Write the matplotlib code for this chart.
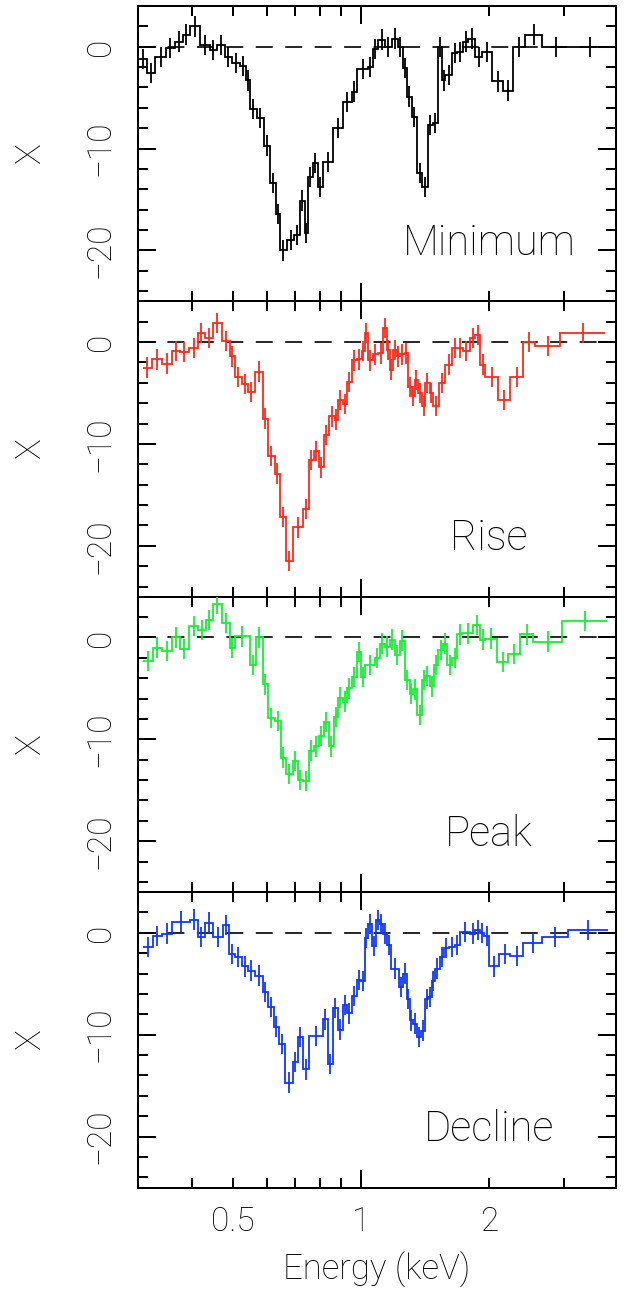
import numpy as np
import matplotlib
matplotlib.use("Agg")
import matplotlib.pyplot as plt
from matplotlib.ticker import FixedLocator, FixedFormatter, NullFormatter

plt.rcParams['font.family'] = ['Roboto', 'DejaVu Sans']
plt.rcParams['font.weight'] = 'light'
plt.rcParams['lines.scale_dashes'] = False

# ---------------- data (energy bin edges in keV, residuals in sigma) ----------------
min_edges = [0.299, 0.314, 0.328, 0.348, 0.365, 0.381, 0.396, 0.418, 0.441, 0.458, 0.479, 0.497,
             0.519, 0.536, 0.548, 0.569, 0.591, 0.611, 0.631, 0.645, 0.670, 0.696, 0.719, 0.738,
             0.750, 0.771, 0.792, 0.814, 0.859, 0.907, 0.952, 0.979, 1.039, 1.067, 1.097, 1.139,
             1.183, 1.222, 1.256, 1.283, 1.318, 1.355, 1.392, 1.438, 1.477, 1.518, 1.551, 1.577,
             1.638, 1.683, 1.738, 1.786, 1.855, 1.927, 2.034, 2.159, 2.279, 2.432, 2.667, 3.104, 3.855]
min_vals = [-1.2, -2.6, -1.0, -0.1, 0.5, 1.2, 2.0, 0.2, -0.3, 0.2, -1.0, -1.6, -1.9, -3.3, -6.1,
            -7.0, -9.7, -13.4, -16.4, -20.0, -19.0, -18.5, -15.1, -18.3, -12.8, -11.4, -13.8, -11.3,
            -8.0, -5.4, -4.4, -2.2, -2.0, -0.2, 0.7, 0.0, 0.8, 0.0, -2.1, -4.9, -6.9, -12.4, -13.8,
            -7.7, -7.5, 0.0, -3.3, -2.8, -0.6, -0.5, 0.5, 0.8, -1.0, -0.5, -3.4, -4.3, 0.0, 1.2, 0.0, 0.0]

rise_edges = [0.307, 0.322, 0.340, 0.359, 0.375, 0.394, 0.414, 0.429, 0.448, 0.471, 0.492, 0.505,
              0.525, 0.542, 0.563, 0.588, 0.604, 0.627, 0.645, 0.666, 0.692, 0.730, 0.754, 0.775,
              0.797, 0.818, 0.841, 0.869, 0.883, 0.907, 0.927, 0.952, 0.979, 1.005, 1.022, 1.039,
              1.067, 1.097, 1.127, 1.151, 1.170, 1.189, 1.216, 1.235, 1.269, 1.290, 1.318, 1.340,
              1.362, 1.392, 1.415, 1.453, 1.477, 1.526, 1.577, 1.638, 1.683, 1.738, 1.805, 1.855,
              1.906, 1.958, 2.101, 2.242, 2.406, 2.568, 2.940, 3.752]
rise_vals = [-2.5, -1.7, -2.1, -0.85, -0.95, -0.6, 0.9, 0.4, 1.9, 0.1, -1.4, -3.4, -4.1, -4.9, -2.9,
             -7.5, -11.2, -12.9, -17.2, -21.5, -18.2, -16.4, -11.6, -10.7, -12.3, -9.1, -7.3, -7.6,
             -5.7, -6.1, -3.9, -1.8, -1.7, -0.9, 0.9, -1.8, -1.2, -1.1, 1.4, -0.75, -2.7, -0.75, -1.4,
             -1.2, -1.1, -4.4, -5.3, -3.7, -5.0, -6.3, -4.0, -5.0, -6.3, -4.0, -2.2, -0.6, -0.6, -0.9,
             0.4, 0.7, -2.2, -3.4, -5.7, -3.4, 0.0, -0.4, 0.9]

peak_edges = [0.307, 0.324, 0.340, 0.359, 0.375, 0.394, 0.414, 0.432, 0.448, 0.471, 0.492, 0.505,
              0.548, 0.566, 0.588, 0.604, 0.627, 0.648, 0.666, 0.692, 0.711, 0.730, 0.754, 0.775,
              0.797, 0.818, 0.841, 0.864, 0.883, 0.907, 0.927, 0.952, 0.979, 1.000, 1.022, 1.079,
              1.108, 1.139, 1.170, 1.202, 1.235, 1.269, 1.304, 1.326, 1.355, 1.392, 1.415, 1.453,
              1.485, 1.518, 1.560, 1.594, 1.638, 1.683, 1.729, 1.835, 1.906, 1.958, 2.090, 2.218,
              2.367, 2.540, 2.973, 3.793]
peak_vals = [-2.3, -1.0, -1.3, 0.0, -1.1, 1.1, 0.75, 1.7, 3.3, 1.4, -1.05, 0.1, -2.7, 0.0, -4.6,
             -7.9, -8.2, -11.8, -13.4, -12.1, -14.0, -14.1, -11.1, -10.7, -9.7, -8.3, -10.7, -7.8,
             -5.9, -6.3, -5.0, -3.9, -1.4, -3.9, -2.7, -2.0, -0.6, -0.9, -0.2, -1.7, -0.3, -4.2,
             -5.5, -5.1, -7.6, -4.2, -3.8, -4.8, -2.7, -1.2, -0.6, -2.7, -2.0, 0.3, 0.4, 1.2, -0.2,
             -0.1, -2.4, -1.6, 0.3, -0.4, 1.6]

decl_edges = [0.307, 0.324, 0.340, 0.359, 0.396, 0.414, 0.429, 0.448, 0.473, 0.489, 0.505, 0.525,
              0.542, 0.563, 0.588, 0.604, 0.624, 0.641, 0.662, 0.692, 0.711, 0.730, 0.754, 0.814,
              0.836, 0.859, 0.883, 0.907, 0.927, 0.952, 0.979, 1.000, 1.022, 1.039, 1.061, 1.085,
              1.108, 1.127, 1.151, 1.177, 1.229, 1.256, 1.283, 1.304, 1.326, 1.355, 1.384, 1.415,
              1.438, 1.469, 1.493, 1.534, 1.568, 1.611, 1.664, 1.710, 1.805, 1.855, 1.906, 1.948,
              2.001, 2.113, 2.242, 2.406, 2.667, 3.071, 3.814]
decl_vals = [-1.4, -0.3, -0.07, 1.1, 1.3, -0.4, 1.0, -0.4, 0.75, -2.1, -2.4, -3.3, -3.7, -4.2, -5.8,
             -7.3, -9.2, -10.9, -14.7, -12.7, -10.2, -13.4, -10.1, -8.5, -12.9, -7.4, -9.5, -7.1,
             -7.9, -6.2, -4.6, -4.7, -0.5, 0.85, -1.3, 1.25, 0.9, -0.07, -1.2, -3.5, -5.3, -4.0,
             -6.5, -8.6, -8.9, -10.2, -9.6, -6.5, -6.3, -4.7, -3.5, -2.4, -1.5, -1.4, -1.2, 0.1,
             -0.07, 0.3, 0.0, -0.3, -3.3, -2.1, -2.3, -1.0, -0.4, 0.26]

err_sigma = 1.0

panel_labels = ['Minimum', 'Rise', 'Peak', 'Decline']
panel_colors = ['#000000', '#ff2a1a', '#14f032', '#1036ff']
panel_edges = [min_edges, rise_edges, peak_edges, decl_edges]
panel_vals = [min_vals, rise_vals, peak_vals, decl_vals]

xtick_major = [1]
xtick_minor = [0.4, 0.5, 0.6, 0.7, 0.8, 0.9, 2, 3]
xtick_minor_labels = ['', '0.5', '', '', '', '', '2', '']
ytick_major = [-20, -10, 0]
ytick_labels = ['\u221220', '\u221210', '0']
ytick_minor = list(range(-24, 5, 2))
xlim = (0.299, 3.98)
ylim = (-25, 4)

# ---------------- figure ----------------
W, H = 627, 1290
fig = plt.figure(figsize=(W / 100, H / 100), dpi=100)
L, R = 138 / W, 616 / W
top = 1 - 6 / H
bot = 1 - 1187.5 / H
h = (top - bot) / 4
lw_axis = 1.45

for i in range(4):
    ax = fig.add_axes([L, top - (i + 1) * h, R - L, h])
    e = np.asarray(panel_edges[i])
    v = np.asarray(panel_vals[i])
    c = panel_colors[i]
    ax.axhline(0, color='k', lw=1.2, ls=(0, (12.2, 9.0)), zorder=1)
    ax.stairs(v, e, baseline=None, color=c, lw=1.3, zorder=3)
    ctr = np.sqrt(e[:-1] * e[1:])
    ax.vlines(ctr, v - err_sigma, v + err_sigma, color=c, lw=1.3, zorder=3)

    ax.set_xscale('log')
    ax.set_xlim(*xlim)
    ax.set_ylim(*ylim)
    ax.xaxis.set_major_locator(FixedLocator(xtick_major))
    ax.xaxis.set_minor_locator(FixedLocator(xtick_minor))
    ax.set_yticks(ytick_major)
    ax.set_yticks(ytick_minor, minor=True)
    ax.set_yticklabels(ytick_labels, rotation=90, va='center', ha='center', fontsize=24)
    if i == 3:
        ax.xaxis.set_major_formatter(FixedFormatter(['1']))
        ax.xaxis.set_minor_formatter(FixedFormatter(xtick_minor_labels))
    else:
        ax.xaxis.set_major_formatter(NullFormatter())
        ax.xaxis.set_minor_formatter(NullFormatter())
    ax.tick_params(which='both', direction='in', top=True, right=True, width=lw_axis,
                   colors='k', labelsize=24)
    ax.tick_params(which='major', length=13)
    ax.tick_params(which='minor', length=7)
    ax.tick_params(axis='x', which='both', pad=13)
    ax.tick_params(axis='y', which='both', pad=27)
    for s in ax.spines.values():
        s.set_linewidth(lw_axis)
    ax.text(0.734, 0.157, panel_labels[i], transform=ax.transAxes, ha='center',
            va='baseline', fontsize=30)
    yc = top - (i + 0.5) * h
    fig.text(30 / W, yc, 'X', rotation=90, ha='center', va='center', fontsize=25)

fig.text(377 / W, 1 - 1280 / H, 'Energy (keV)', ha='center', va='baseline', fontsize=25)

fig.savefig('out.png', dpi=100)
